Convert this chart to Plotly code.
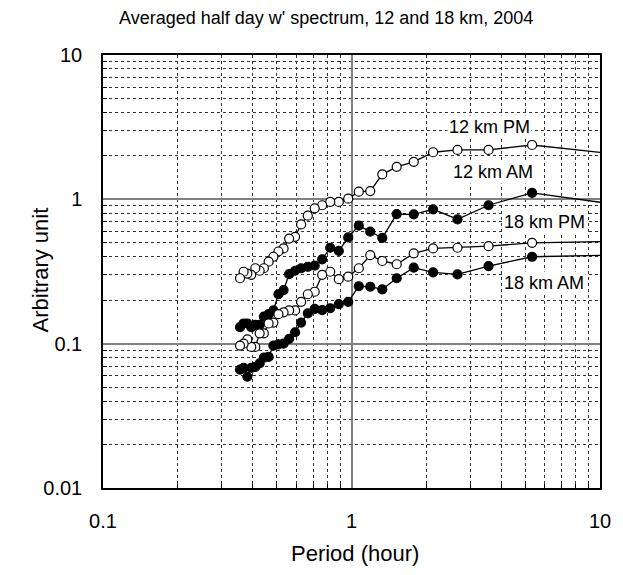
import plotly.graph_objects as go

# Periods (hour)
period = [10.67, 5.33, 3.56, 2.67, 2.13, 1.78, 1.52, 1.33, 1.19, 1.07,
          0.970, 0.889, 0.821, 0.762, 0.711, 0.667, 0.627, 0.593, 0.561, 0.533,
          0.508, 0.485, 0.464, 0.444, 0.427, 0.410, 0.395, 0.381, 0.368, 0.356]

pm12 = [2.09, 2.38, 2.20, 2.20, 2.12, 1.82, 1.68, 1.49, 1.14, 1.13,
        1.01, 0.96, 0.96, 0.91, 0.867, 0.77, 0.67, 0.55, 0.535, 0.457,
        0.435, 0.40, 0.37, 0.333, 0.32, 0.333, 0.30, 0.306, 0.315, 0.284]

am12 = [0.94, 1.11, 0.91, 0.726, 0.853, 0.787, 0.79, 0.54, 0.597, 0.657,
        0.545, 0.439, 0.462, 0.384, 0.347, 0.341, 0.333, 0.32, 0.303, 0.235,
        0.22, 0.17, 0.16, 0.154, 0.135, 0.135, 0.13, 0.138, 0.138, 0.13]

pm18 = [0.51, 0.50, 0.474, 0.462, 0.457, 0.422, 0.355, 0.374, 0.41, 0.333,
        0.291, 0.28, 0.315, 0.30, 0.229, 0.22, 0.195, 0.17, 0.17, 0.165,
        0.16, 0.14, 0.138, 0.118, 0.118, 0.095, 0.095, 0.107, 0.10, 0.097]

am18 = [0.41, 0.40, 0.345, 0.302, 0.312, 0.336, 0.284, 0.238, 0.248, 0.25,
        0.195, 0.188, 0.176, 0.171, 0.174, 0.162, 0.14, 0.12, 0.108, 0.10,
        0.099, 0.097, 0.081, 0.080, 0.073, 0.069, 0.068, 0.059, 0.068, 0.066]

series = [
    ("12 km PM", pm12, "white"),
    ("12 km AM", am12, "black"),
    ("18 km PM", pm18, "white"),
    ("18 km AM", am18, "black"),
]

x_ticks = [0.1, 1, 10]
x_ticktext = ["0.1", "1", "10"]
y_ticks = [0.01, 0.1, 1, 10]
y_ticktext = ["0.01", "0.1", "1", "10"]

x_minor = [d * m for d in [0.1, 1] for m in range(2, 10)]
y_minor = [d * m for d in [0.01, 0.1, 1] for m in range(2, 10)]

fig = go.Figure()
for name, vals, fill in series:
    fig.add_trace(go.Scatter(
        x=period, y=vals, mode="lines+markers", name=name,
        line=dict(color="black", width=1.3),
        marker=dict(symbol="circle", size=9, color=fill,
                    line=dict(color="black", width=1.2)),
        showlegend=False,
    ))

font_family = "Liberation Sans, Arial, sans-serif"

L, R, T, B = 103, 603, 55, 488
W, H = R - L, B - T

fig.update_layout(
    width=623, height=575,
    margin=dict(l=L, r=623 - R, t=T, b=575 - B),
    paper_bgcolor="white", plot_bgcolor="white",
    font=dict(family=font_family, color="black"),
)

axis_common = dict(
    type="log",
    showline=True, mirror=True, linecolor="black", linewidth=1.5,
    showgrid=True, gridcolor="#808080", gridwidth=1.5,
    ticks="outside", tickcolor="rgba(0,0,0,0)",
    tickfont=dict(size=20, color="black", family=font_family),
    zeroline=False,
)

fig.update_xaxes(
    **axis_common,
    range=[-1, 1], ticklen=14,
    tickmode="array", tickvals=x_ticks, ticktext=x_ticktext,
    minor=dict(tickmode="array", tickvals=x_minor, showgrid=True,
               gridcolor="#333333", gridwidth=1, griddash="3px,3px",
               ticks="inside", ticklen=4, tickcolor="black"),
)
fig.update_yaxes(
    **axis_common,
    range=[-2, 1], ticklen=15,
    tickmode="array", tickvals=y_ticks, ticktext=y_ticktext,
    minor=dict(tickmode="array", tickvals=y_minor, showgrid=True,
               gridcolor="#333333", gridwidth=1, griddash="3px,3px",
               ticks="inside", ticklen=4, tickcolor="black"),
)

def px_to_paper(px, py):
    return (px - L) / W, (B - py) / H

# Title and axis titles
tx, ty = px_to_paper(327, 18)
fig.add_annotation(text="Averaged half day w' spectrum, 12 and 18 km, 2004",
                   xref="paper", yref="paper", x=tx, y=ty, showarrow=False,
                   xanchor="center", yanchor="middle",
                   font=dict(size=18, color="black", family=font_family))
ax_, ay_ = px_to_paper(357, 553)
fig.add_annotation(text="Period (hour)", xref="paper", yref="paper",
                   x=ax_, y=ay_, showarrow=False, xanchor="center", yanchor="middle",
                   font=dict(size=22, color="black", family=font_family))
bx_, by_ = px_to_paper(40, 270)
fig.add_annotation(text="Arbitrary unit", xref="paper", yref="paper",
                   x=bx_, y=by_, showarrow=False, xanchor="center", yanchor="middle",
                   textangle=-90,
                   font=dict(size=22, color="black", family=font_family))

labels = [
    ("12 km PM", 492, 127),
    ("12 km AM", 495, 172),
    ("18 km PM", 547, 222),
    ("18 km AM", 547, 283),
]
for text, px, py in labels:
    lx, ly = px_to_paper(px, py)
    fig.add_annotation(
        text=text, xref="paper", yref="paper", x=lx, y=ly,
        xanchor="center", yanchor="middle", showarrow=False,
        font=dict(size=18, color="black", family=font_family),
        bgcolor="white",
    )

fig.write_html("out.html")
